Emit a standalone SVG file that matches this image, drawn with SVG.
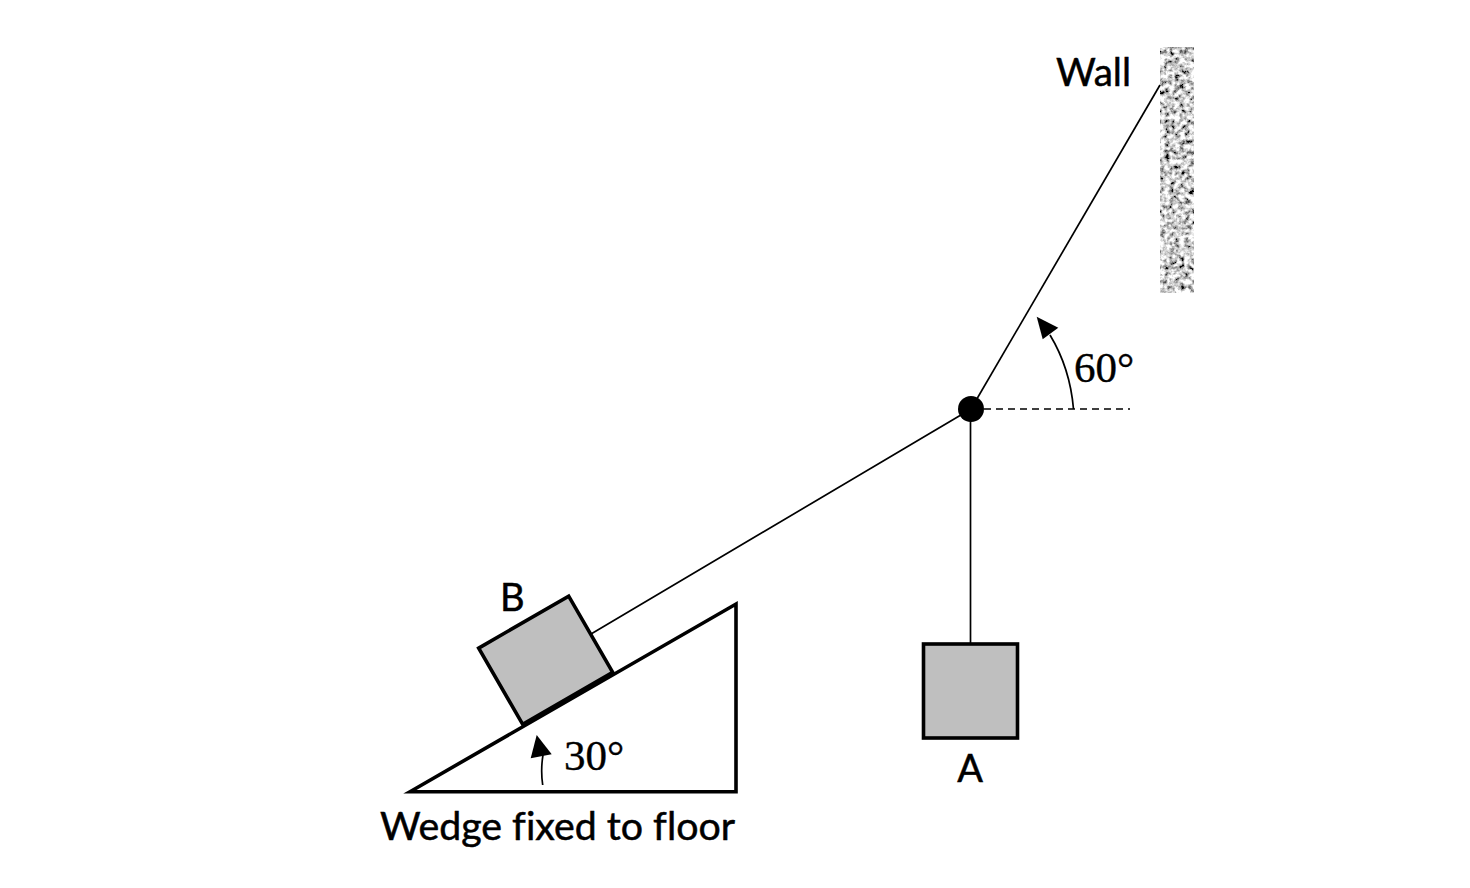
<svg xmlns="http://www.w3.org/2000/svg" width="1470" height="888" viewBox="0 0 1470 888">
<style>
.lbl{font-family:Lato,"Liberation Sans",sans-serif;font-size:38px;fill:#000;stroke:#000;stroke-width:0.5;font-variant-ligatures:none}
.deg{font-family:"Liberation Serif",serif;font-size:43px;fill:#000;stroke:#000;stroke-width:0.4}
.rope{stroke:#000;stroke-width:1.7;fill:none}
.box{fill:#bfbfbf;stroke:#000;stroke-width:3.6;stroke-linejoin:miter}
.head{fill:#000;stroke:none}
</style>
<defs>
<filter id="grain" x="0" y="0" width="1" height="1" filterUnits="objectBoundingBox">
<feTurbulence type="fractalNoise" baseFrequency="0.2" numOctaves="3" seed="11" result="n"/>
<feColorMatrix in="n" type="matrix" values="2.4 0 0 0 -0.58  2.4 0 0 0 -0.58  2.4 0 0 0 -0.58  0 0 0 0 1" result="g"/>
<feComposite in="g" in2="SourceGraphic" operator="in"/>
</filter>
</defs>
<rect width="1470" height="888" fill="#fff"/>
<g id="wall">
<rect x="1160" y="47" width="34" height="246" fill="#aaa" filter="url(#grain)"/>
<text class="lbl" x="1056" y="86" textLength="75" lengthAdjust="spacingAndGlyphs">Wall</text>
</g>
<g id="connectors">
<line class="rope" x1="971" y1="409" x2="1160" y2="85"/>
<line class="rope" x1="971" y1="409" x2="591" y2="634"/>
<line class="rope" x1="970.5" y1="409" x2="970.5" y2="643"/>
<line x1="984" y1="409" x2="1130" y2="409" stroke="#000" stroke-width="1.5" stroke-dasharray="7 5"/>
</g>
<g id="angle60">
<path class="rope" d="M1073.5,409 Q1070,368 1050,335" stroke-width="2"/>
<polygon class="head" points="1036.7,316.7 1058.3,327.7 1042.7,339.3"/>
<text class="deg" x="1074" y="382">60°</text>
</g>
<g id="knot">
<circle cx="971" cy="409" r="13" fill="#000"/>
</g>
<g id="wedge">
<polygon points="410,791.7 736,604 736,791.7" fill="#fff" stroke="#000" stroke-width="3.6" stroke-linejoin="miter"/>
<text class="lbl" x="380" y="840" textLength="355" lengthAdjust="spacingAndGlyphs">Wedge fixed to floor</text>
</g>
<g id="angle30">
<path class="rope" d="M542.7,785 Q540.5,770 543,755" stroke-width="2"/>
<polygon class="head" points="536.7,735 530.7,758.3 551.7,754.3"/>
<text class="deg" x="564" y="770">30°</text>
</g>
<g id="blockB">
<polygon class="box" points="478.7,648.1 568.7,596.1 612.7,672.3 522.7,724.3"/>
<text class="lbl" x="500" y="610.7">B</text>
</g>
<g id="blockA">
<rect class="box" x="923.5" y="644" width="94" height="94"/>
<text class="lbl" x="970" y="781.7" text-anchor="middle">A</text>
</g>
</svg>
